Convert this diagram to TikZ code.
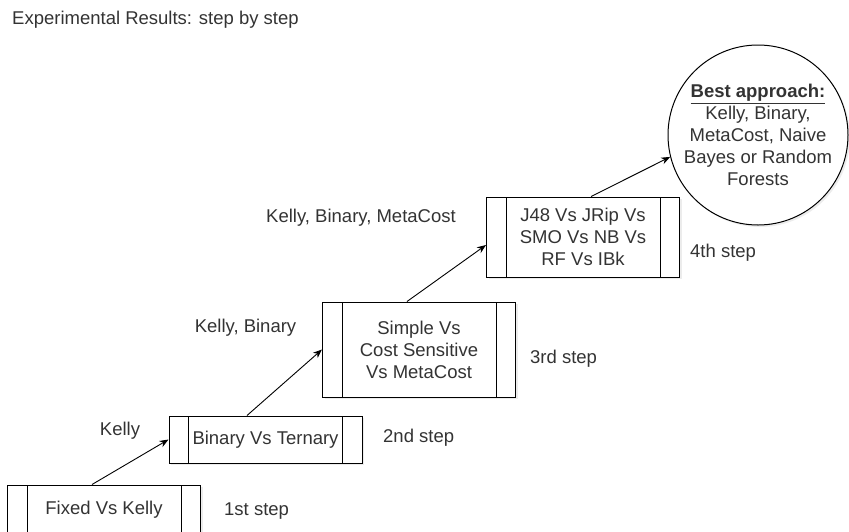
\documentclass[tikz,border=0pt]{standalone}
\usepackage{fontspec}
\setmainfont{Liberation Sans}
\usetikzlibrary{arrows.meta,shadows}

\definecolor{txtgray}{HTML}{333333}

\tikzset{
  procbox/.style={draw, line width=1pt, fill=white, minimum width=193pt, inner sep=2pt, align=center,
    drop shadow={shadow xshift=2pt, shadow yshift=-2pt, opacity=0.15},
    path picture={
      \draw[line width=1pt] ([xshift=19.5pt]path picture bounding box.north west) -- ([xshift=19.5pt]path picture bounding box.south west);
      \draw[line width=1pt] ([xshift=-19.5pt]path picture bounding box.north east) -- ([xshift=-19.5pt]path picture bounding box.south east);
    }},
  bestnode/.style={draw, circle, line width=1pt, fill=white, minimum size=180pt, inner sep=0pt, align=center,
    drop shadow={shadow xshift=2pt, shadow yshift=-2pt, opacity=0.15}},
  steplabel/.style={anchor=west, inner sep=0pt},
  link/.style={-{Stealth[length=9pt,width=7pt]}, line width=0.9pt},
}

\begin{document}
\begin{tikzpicture}[x=1pt, y=-1pt, every node/.style={font=\fontsize{18.5}{22}\selectfont, text=txtgray}]
  \useasboundingbox (0,0) rectangle (849,531);
  \clip (0,0) rectangle (849,531);

  % title
  \node[steplabel] (title) at (12,20) {Experimental Results: step by step};

  % steps
  \node[procbox, minimum height=50pt] (fixed) at (104,510) {Fixed Vs Kelly};
  \node[procbox, minimum height=47pt] (binary) at (265.5,439.5) {Binary Vs Ternary};
  \node[procbox, minimum height=95pt] (cost) at (419,349.5) {Simple Vs\\Cost Sensitive\\Vs MetaCost};
  \node[procbox, minimum height=80pt] (algo) at (583,237) {J48 Vs JRip Vs\\SMO Vs NB Vs\\RF Vs IBk};
  \node[bestnode] (best) at (758,135) {\underline{\textbf{Best approach:}}\\Kelly, Binary,\\MetaCost, Naive\\Bayes or Random\\Forests};

  \node[steplabel] (step1) at (224,511) {1st step};
  \node[steplabel] (step2) at (383,438) {2nd step};
  \node[steplabel] (step3) at (530,359) {3rd step};
  \node[steplabel] (step4) at (690,253) {4th step};

  % winners carried to the next step
  \node (kelly) at (120,431) {Kelly};
  \node (kellybin) at (245.5,328) {Kelly, Binary};
  \node (kellybinmeta) at (361,218) {Kelly, Binary, MetaCost};

  \draw[link] ([xshift=-12pt]fixed.north) -- (binary.west);
  \draw[link] ([xshift=-18.5pt]binary.north) -- (cost.west);
  \draw[link] ([xshift=-12pt]cost.north) -- ([yshift=-8pt]algo.west);
  \draw[link] ([xshift=8pt]algo.north) -- (best.194);
\end{tikzpicture}
\end{document}
